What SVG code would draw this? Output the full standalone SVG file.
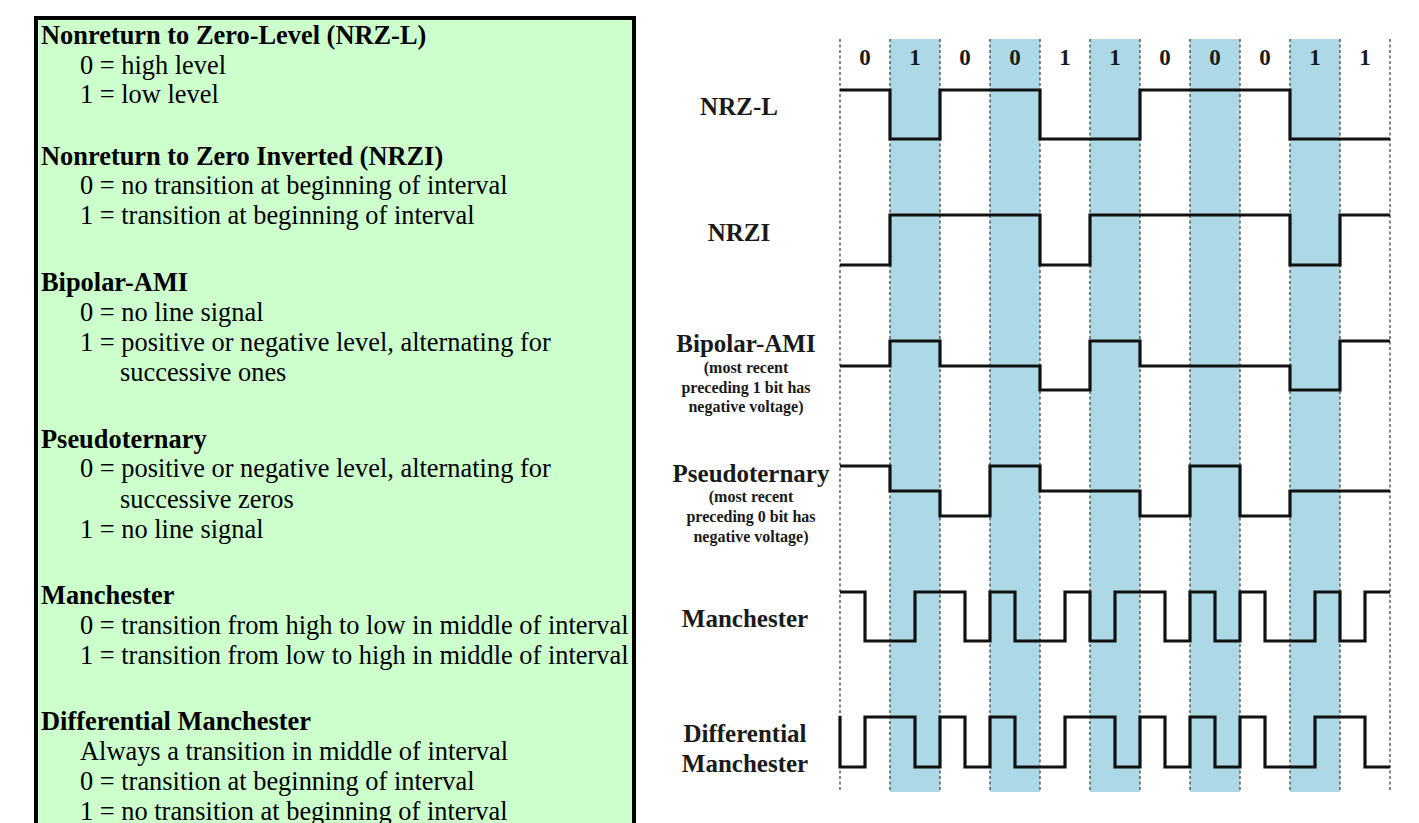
<svg xmlns="http://www.w3.org/2000/svg" width="1419" height="823" viewBox="0 0 1419 823">
<style>
.hd{font-family:"Liberation Serif","Times New Roman",serif;font-weight:bold;font-size:26.4px;fill:#000}
.bd{font-family:"Liberation Serif","Times New Roman",serif;font-size:26.4px;fill:#000}
.lbl{font-family:"Liberation Serif","Times New Roman",serif;font-weight:bold;font-size:25px;fill:#1a1a1a;text-anchor:middle}
.sub{font-family:"Liberation Serif","Times New Roman",serif;font-weight:bold;font-size:16px;fill:#1a1a1a;text-anchor:middle}
.bit{font-family:"Liberation Serif","Times New Roman",serif;font-weight:bold;font-size:23px;fill:#1a1a1a;text-anchor:middle}
.stripe{fill:#ADD9E6}
.grid line{stroke:#444;stroke-width:1.3;stroke-dasharray:3 2.5}
.wave{fill:none;stroke:#111;stroke-width:3.2;stroke-linejoin:miter;stroke-linecap:butt}
</style>
<rect width="1419" height="823" fill="#fff"/>

<g id="legend-panel">
<rect x="36" y="18" width="598" height="820" fill="#CCFFCC" stroke="#000" stroke-width="4"/>
<text class="hd" x="41" y="44">Nonreturn to Zero-Level (NRZ-L)</text>
<text class="bd" x="80" y="73.5">0 = high level</text>
<text class="bd" x="80" y="103">1 = low level</text>
<text class="hd" x="41" y="164.5">Nonreturn to Zero Inverted (NRZI)</text>
<text class="bd" x="80" y="194">0 = no transition at beginning of interval</text>
<text class="bd" x="80" y="223.5">1 = transition at beginning of interval</text>
<text class="hd" x="41" y="290.5">Bipolar-AMI</text>
<text class="bd" x="80" y="320.5">0 = no line signal</text>
<text class="bd" x="80" y="350.5">1 = positive or negative level, alternating for</text>
<text class="bd" x="120" y="380.5">successive ones</text>
<text class="hd" x="41" y="447.5">Pseudoternary</text>
<text class="bd" x="80" y="477">0 = positive or negative level, alternating for</text>
<text class="bd" x="120" y="507.5">successive zeros</text>
<text class="bd" x="80" y="537.5">1 = no line signal</text>
<text class="hd" x="41" y="603.5">Manchester</text>
<text class="bd" x="80" y="633.5">0 = transition from high to low in middle of interval</text>
<text class="bd" x="80" y="663.5">1 = transition from low to high in middle of interval</text>
<text class="hd" x="41" y="729.5">Differential Manchester</text>
<text class="bd" x="80" y="759.5">Always a transition in middle of interval</text>
<text class="bd" x="80" y="789.5">0 = transition at beginning of interval</text>
<text class="bd" x="80" y="819.5">1 = no transition at beginning of interval</text>
</g>

<g id="stripes">
<rect class="stripe" x="890" y="39" width="50" height="753"/>
<rect class="stripe" x="990" y="39" width="50" height="753"/>
<rect class="stripe" x="1090" y="39" width="50" height="753"/>
<rect class="stripe" x="1190" y="39" width="50" height="753"/>
<rect class="stripe" x="1290" y="39" width="50" height="753"/>
</g>

<g id="grid" class="grid">
<line x1="840" y1="39" x2="840" y2="792"/>
<line x1="890" y1="39" x2="890" y2="792"/>
<line x1="940" y1="39" x2="940" y2="792"/>
<line x1="990" y1="39" x2="990" y2="792"/>
<line x1="1040" y1="39" x2="1040" y2="792"/>
<line x1="1090" y1="39" x2="1090" y2="792"/>
<line x1="1140" y1="39" x2="1140" y2="792"/>
<line x1="1190" y1="39" x2="1190" y2="792"/>
<line x1="1240" y1="39" x2="1240" y2="792"/>
<line x1="1290" y1="39" x2="1290" y2="792"/>
<line x1="1340" y1="39" x2="1340" y2="792"/>
<line x1="1390" y1="39" x2="1390" y2="792"/>
</g>

<g id="bit-labels">
<text class="bit" x="865" y="65">0</text>
<text class="bit" x="915" y="65">1</text>
<text class="bit" x="965" y="65">0</text>
<text class="bit" x="1015" y="65">0</text>
<text class="bit" x="1065" y="65">1</text>
<text class="bit" x="1115" y="65">1</text>
<text class="bit" x="1165" y="65">0</text>
<text class="bit" x="1215" y="65">0</text>
<text class="bit" x="1265" y="65">0</text>
<text class="bit" x="1315" y="65">1</text>
<text class="bit" x="1365" y="65">1</text>
</g>

<g id="label-nrzl"><text class="lbl" x="739" y="115">NRZ-L</text></g>
<g id="label-nrzi"><text class="lbl" x="739" y="241">NRZI</text></g>
<g id="label-ami">
<text class="lbl" x="746" y="352">Bipolar-AMI</text>
<text class="sub" x="746" y="372.5">(most recent</text>
<text class="sub" x="746" y="392.5">preceding 1 bit has</text>
<text class="sub" x="746" y="412">negative voltage)</text>
</g>
<g id="label-pseudo">
<text class="lbl" x="751" y="482">Pseudoternary</text>
<text class="sub" x="751" y="501.5">(most recent</text>
<text class="sub" x="751" y="522">preceding 0 bit has</text>
<text class="sub" x="751" y="542">negative voltage)</text>
</g>
<g id="label-manchester"><text class="lbl" x="745" y="627">Manchester</text></g>
<g id="label-diffman">
<text class="lbl" x="745" y="742">Differential</text>
<text class="lbl" x="745" y="772">Manchester</text>
</g>

<g id="waveforms">
<path id="wave-nrzl" class="wave" d="M840,90 H890 V139 H940 V90 H1040 V139 H1140 V90 H1290 V139 H1390"/>
<path id="wave-nrzi" class="wave" d="M840,265 H890 V215 H1040 V265 H1090 V215 H1290 V265 H1340 V215 H1390"/>
<path id="wave-ami" class="wave" d="M840,366 H890 V341 H940 V366 H1040 V390 H1090 V341 H1140 V366 H1290 V390 H1340 V341 H1390"/>
<path id="wave-pseudo" class="wave" d="M840,466 H890 V491 H940 V516 H990 V466 H1040 V491 H1140 V516 H1190 V466 H1240 V516 H1290 V491 H1390"/>
<path id="wave-manchester" class="wave" d="M840,592 H865 V641 H915 V592 H965 V641 H990 V592 H1015 V641 H1065 V592 H1090 V641 H1115 V592 H1165 V641 H1190 V592 H1215 V641 H1240 V592 H1265 V641 H1315 V592 H1340 V641 H1365 V592 H1390"/>
<path id="wave-diffman" class="wave" d="M840,716 V767 H865 V717 H915 V767 H940 V717 H965 V767 H990 V717 H1015 V767 H1065 V717 H1115 V767 H1140 V717 H1165 V767 H1190 V717 H1215 V767 H1240 V717 H1265 V767 H1315 V717 H1365 V767 H1390"/>
</g>
</svg>
